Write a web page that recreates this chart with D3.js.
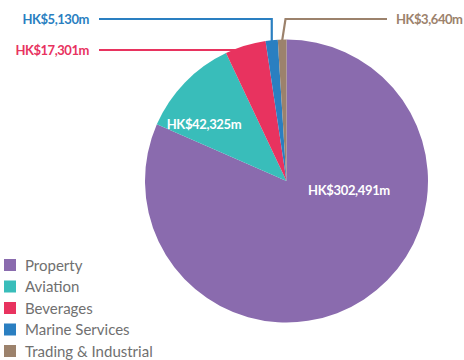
<!DOCTYPE html>
<html>
<head>
<meta charset="utf-8">
<script src="https://cdn.jsdelivr.net/npm/d3@7"></script>
<style>
  html, body { margin: 0; padding: 0; background: #fff; }
  svg { display: block; }
  text { font-family: Lato, "Open Sans", sans-serif; }
</style>
</head>
<body>
<svg id="chart" width="464" height="360"></svg>
<script>
// Revenue by division (HK$ million)
const categories = ["Property", "Aviation", "Beverages", "Marine Services", "Trading & Industrial"];
const values = [302491, 42325, 17301, 5130, 3640];
const valueLabels = ["HK$302,491m", "HK$42,325m", "HK$17,301m", "HK$5,130m", "HK$3,640m"];
const colors = ["#8a6bae", "#39bdba", "#e8335f", "#2a7fc1", "#9c826c"];

const svg = d3.select("#chart");
const cx = 286.5, cy = 181, r = 141.5;

const pie = d3.pie().sort(null).value(d => d)(values);
const arc = d3.arc().innerRadius(0).outerRadius(r);

const g = svg.append("g").attr("transform", `translate(${cx},${cy})`);
g.selectAll("path")
  .data(pie)
  .join("path")
  .attr("d", arc)
  .attr("fill", (d, i) => colors[i]);

// Labels placed inside the two large slices
const inside = [
  { i: 0, x: 349, y: 195, anchor: "middle" },
  { i: 1, x: 204, y: 129, anchor: "middle" }
];
svg.selectAll("text.inside")
  .data(inside)
  .join("text")
  .attr("class", "inside")
  .attr("x", d => d.x)
  .attr("y", d => d.y)
  .attr("text-anchor", d => d.anchor)
  .attr("fill", "#fff")
  .attr("font-weight", "bold")
  .attr("font-size", 13)
  .attr("letter-spacing", -0.35)
  .text(d => valueLabels[d.i]);

// Callouts for the small slices, anchored at points on the rim
function rimPoint(angle, rad) {
  return [cx + rad * Math.sin(angle), cy - rad * Math.cos(angle)];
}
const bev = pie[2], mar = pie[3], tra = pie[4];
const bevRim = rimPoint((bev.startAngle + bev.endAngle) / 2 - 0.06, r - 2);
const marRim = rimPoint((mar.startAngle + mar.endAngle) / 2, r - 1);
const traRim = rimPoint((tra.startAngle + tra.endAngle) / 2, r - 1);

const callouts = [
  { i: 2, pts: [[99, 50], [bevRim[0], 50]], lx: 89, ly: 55, anchor: "end" },
  { i: 3, pts: [[99, 19], [marRim[0], 19], [marRim[0], marRim[1]]], lx: 89, ly: 24, anchor: "end" },
  { i: 4, pts: [[387, 19], [285.5, 19], [traRim[0], traRim[1]]], lx: 396, ly: 24, anchor: "start" }
];
const line = d3.line();
svg.selectAll("path.callout")
  .data(callouts)
  .join("path")
  .attr("class", "callout")
  .attr("d", d => line(d.pts))
  .attr("fill", "none")
  .attr("stroke", d => colors[d.i])
  .attr("stroke-width", 2.2);
svg.selectAll("text.callout")
  .data(callouts)
  .join("text")
  .attr("class", "callout")
  .attr("x", d => d.lx)
  .attr("y", d => d.ly)
  .attr("text-anchor", d => d.anchor)
  .attr("fill", d => colors[d.i])
  .attr("font-weight", "bold")
  .attr("font-size", 13)
  .attr("letter-spacing", -0.45)
  .text(d => valueLabels[d.i]);

// Legend
const legend = svg.append("g").attr("transform", "translate(4,259)");
const rowY = d3.scalePoint().domain(categories).range([0, 86]);
const item = legend.selectAll("g")
  .data(categories)
  .join("g")
  .attr("transform", d => `translate(0,${rowY(d)})`);
item.append("rect")
  .attr("width", 12).attr("height", 12)
  .attr("fill", (d, i) => colors[i]);
item.append("text")
  .attr("x", 21).attr("y", 11.5)
  .attr("font-size", 15)
  .attr("fill", "#707070")
  .text(d => d);
</script>
</body>
</html>
